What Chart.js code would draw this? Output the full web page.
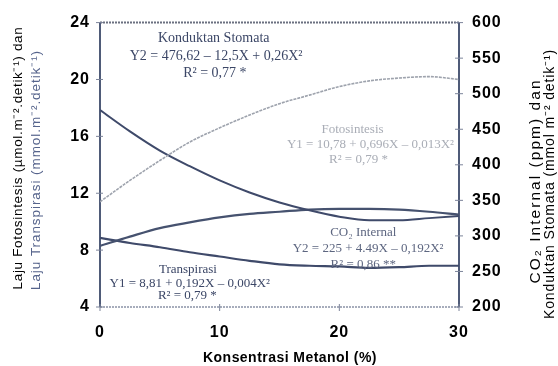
<!DOCTYPE html>
<html>
<head>
<meta charset="utf-8">
<script src="https://cdn.jsdelivr.net/npm/chart.js@4/dist/chart.umd.min.js"></script>
<style>
  html, body { margin: 0; padding: 0; background: #fff; }
  #wrap { width: 558px; height: 366px; position: relative; }
</style>
</head>
<body>
<div id="wrap"><canvas id="c" width="558" height="366"></canvas></div>
<script>
// Methanol concentration (%)
const konsentrasi = [0, 2.5, 5, 7.5, 10, 12.5, 15, 17.5, 20, 22.5, 25, 27.5, 30];
// Left axis: photosynthesis and transpiration rates
const fotosintesis = [11.4, 12.9, 14.3, 15.6, 16.6, 17.5, 18.3, 18.9, 19.5, 19.9, 20.1, 20.2, 20.0];
const transpirasi  = [8.86, 8.5, 8.2, 7.85, 7.55, 7.25, 7.0, 6.9, 6.85, 6.75, 6.8, 6.9, 6.9];
// Right axis: internal CO2 and stomatal conductance
const co2Internal      = [286, 299, 311, 319, 326, 331, 334, 337, 338, 338, 337, 334, 330];
const konduktanStomata = [477, 447, 420, 398, 378, 361, 347, 336, 327, 322, 322, 325, 328];

const xTicks = [0, 10, 20, 30];
const yLeftTicks = [4, 8, 12, 16, 20, 24];
const yRightTicks = [200, 250, 300, 350, 400, 450, 500, 550, 600];

const toPts = (ys) => konsentrasi.map((x, i) => ({ x: x, y: ys[i] }));

// Regression labels, placed in data units (x, left-axis value)
const notes = [
  { t: 'Konduktan Stomata',               x: 9.5,  y: 22.9,  c: '#3b4666', s: 14 },
  { t: 'Y2 = 476,62 – 12,5X + 0,26X²',    x: 9.7,  y: 21.65, c: '#3b4666', s: 14 },
  { t: 'R² = 0,77 *',                     x: 9.6,  y: 20.45, c: '#3b4666', s: 14 },
  { t: 'Fotosintesis',                    x: 21.1, y: 16.5,  c: '#a9adb6', s: 13 },
  { t: 'Y1 = 10,78 + 0,696X – 0,013X²',   x: 22.6, y: 15.45, c: '#a9adb6', s: 13 },
  { t: 'R² = 0,79 *',                     x: 21.6, y: 14.35, c: '#a9adb6', s: 13 },
  { t: 'CO₂ Internal',                    x: 22.0, y: 9.2,   c: '#5d6680', s: 13 },
  { t: 'Y2 = 225 + 4.49X – 0,192X²',      x: 22.4, y: 8.1,   c: '#5d6680', s: 13 },
  { t: 'R² = 0,86 **',                    x: 22.0, y: 7.0,   c: '#5d6680', s: 13 },
  { t: 'Transpirasi',                     x: 7.35, y: 6.6,   c: '#3b4666', s: 13 },
  { t: 'Y1 = 8,81 + 0,192X – 0,004X²',    x: 7.5,  y: 5.68,  c: '#3b4666', s: 13 },
  { t: 'R² = 0,79 *',                     x: 7.3,  y: 4.78,  c: '#3b4666', s: 13 }
];

const SANS = '"Liberation Sans", Arial, sans-serif';

// draws text centred at (x, y), spreading the letters so the run spans `len` px
function spread(ctx, txt, x, y, len) {
  ctx.letterSpacing = '0px';
  const w = ctx.measureText(txt).width;
  const n = Array.from(txt).length;
  ctx.letterSpacing = Math.max(0, (len - w) / n).toFixed(2) + 'px';
  ctx.fillText(txt, x, y);
  ctx.letterSpacing = '0px';
}

const frame = {
  id: 'frame',
  beforeDraw(chart) {
    chart.ctx.letterSpacing = '1px';
  },
  beforeDatasetsDraw(chart) {
    const { ctx, chartArea: a, scales } = chart;
    ctx.save();
    // top border (dotted grey)
    ctx.strokeStyle = '#6b7080';
    ctx.lineWidth = 2;
    ctx.setLineDash([2, 1]);
    ctx.beginPath(); ctx.moveTo(a.left, a.top); ctx.lineTo(a.right, a.top); ctx.stroke();
    // bottom axis
    ctx.strokeStyle = '#8b93a6';
    ctx.lineWidth = 1.5;
    ctx.beginPath(); ctx.moveTo(a.left, a.bottom); ctx.lineTo(a.right, a.bottom); ctx.stroke();
    ctx.setLineDash([]);
    // left & right axes
    ctx.strokeStyle = '#4f5b78';
    ctx.lineWidth = 2;
    ctx.beginPath(); ctx.moveTo(a.left, a.top); ctx.lineTo(a.left, a.bottom); ctx.stroke();
    ctx.beginPath(); ctx.moveTo(a.right, a.top); ctx.lineTo(a.right, a.bottom); ctx.stroke();
    // tick marks
    ctx.lineWidth = 1;
    ctx.strokeStyle = '#7c849a';
    yLeftTicks.forEach(v => {
      const y = scales.y.getPixelForValue(v);
      ctx.beginPath(); ctx.moveTo(a.left - 4, y); ctx.lineTo(a.left + 3, y); ctx.stroke();
    });
    yRightTicks.forEach(v => {
      const y = scales.y2.getPixelForValue(v);
      ctx.beginPath(); ctx.moveTo(a.right - 4, y); ctx.lineTo(a.right + 4, y); ctx.stroke();
    });
    xTicks.forEach(v => {
      const x = scales.x.getPixelForValue(v);
      ctx.beginPath(); ctx.moveTo(x, a.bottom - 3); ctx.lineTo(x, a.bottom + 4); ctx.stroke();
    });
    ctx.restore();
  },
  afterDatasetsDraw(chart) {
    const { ctx, scales } = chart;
    ctx.save();
    ctx.letterSpacing = '0px';
    ctx.textAlign = 'center';
    ctx.textBaseline = 'middle';
    notes.forEach(n => {
      ctx.font = n.s + 'px "Liberation Serif", "Times New Roman", serif';
      ctx.fillStyle = n.c;
      ctx.fillText(n.t, scales.x.getPixelForValue(n.x), scales.y.getPixelForValue(n.y));
    });
    // x-axis title
    ctx.font = 'bold 14px ' + SANS;
    ctx.fillStyle = '#000';
    spread(ctx, 'Konsentrasi Metanol (%)', 290, 358, 174);

    // rotated y-axis titles
    const vtext = (txt, x, y, len, font, color) => {
      ctx.save();
      ctx.translate(x, y);
      ctx.rotate(-Math.PI / 2);
      ctx.font = font;
      ctx.fillStyle = color;
      spread(ctx, txt, 0, 0, len);
      ctx.restore();
    };
    vtext('Laju Fotosintesis (µmol.m⁻².detik⁻¹) dan', 18, 158, 263, '13.5px ' + SANS, '#000');
    vtext('Laju Transpirasi (mmol.m⁻².detik⁻¹)', 36, 170, 240, '13.5px ' + SANS, '#56648c');
    vtext('CO₂ Internal (ppm) dan', 536, 181, 205, '15.5px ' + SANS, '#000');
    vtext('Konduktan Stomata (mmol m⁻² detik⁻¹)', 550, 184, 270, '14px ' + SANS, '#000');
    ctx.restore();
  }
};

const tickFont = { family: SANS, size: 16, weight: 'bold' };

new Chart(document.getElementById('c'), {
  type: 'line',
  data: {
    datasets: [
      { label: 'Fotosintesis', data: toPts(fotosintesis), yAxisID: 'y',
        borderColor: '#9ea3ad', borderWidth: 1.6, borderDash: [3, 1] },
      { label: 'Konduktan Stomata', data: toPts(konduktanStomata), yAxisID: 'y2',
        borderColor: '#3f4a6a', borderWidth: 2 },
      { label: 'CO2 Internal', data: toPts(co2Internal), yAxisID: 'y2',
        borderColor: '#46526f', borderWidth: 2.2 },
      { label: 'Transpirasi', data: toPts(transpirasi), yAxisID: 'y',
        borderColor: '#3f4a6a', borderWidth: 2.2 }
    ]
  },
  options: {
    responsive: false,
    animation: false,
    events: [],
    layout: { padding: { top: 19, right: 0, left: 0, bottom: 0 } },
    elements: { point: { radius: 0 }, line: { tension: 0.4, cubicInterpolationMode: 'monotone', fill: false } },
    plugins: { legend: { display: false }, tooltip: { enabled: false } },
    scales: {
      x: {
        type: 'linear', min: 0, max: 30,
        afterBuildTicks: (s) => { s.ticks = xTicks.map(v => ({ value: v })); },
        afterFit: (s) => { s.height = 59; },
        grid: { display: false, drawTicks: false },
        border: { display: false },
        ticks: { font: tickFont, color: '#000', padding: 16, maxRotation: 0 }
      },
      y: {
        position: 'left', min: 4, max: 24,
        afterBuildTicks: (s) => { s.ticks = yLeftTicks.map(v => ({ value: v })); },
        afterFit: (s) => { s.width = 100; },
        grid: { display: false, drawTicks: false },
        border: { display: false },
        ticks: { font: tickFont, color: '#000', padding: 10 }
      },
      y2: {
        position: 'right', min: 200, max: 600,
        afterBuildTicks: (s) => { s.ticks = yRightTicks.map(v => ({ value: v })); },
        afterFit: (s) => { s.width = 99; },
        grid: { display: false, drawTicks: false },
        border: { display: false },
        ticks: { font: tickFont, color: '#000', padding: 13 }
      }
    }
  },
  plugins: [frame]
});
</script>
</body>
</html>
